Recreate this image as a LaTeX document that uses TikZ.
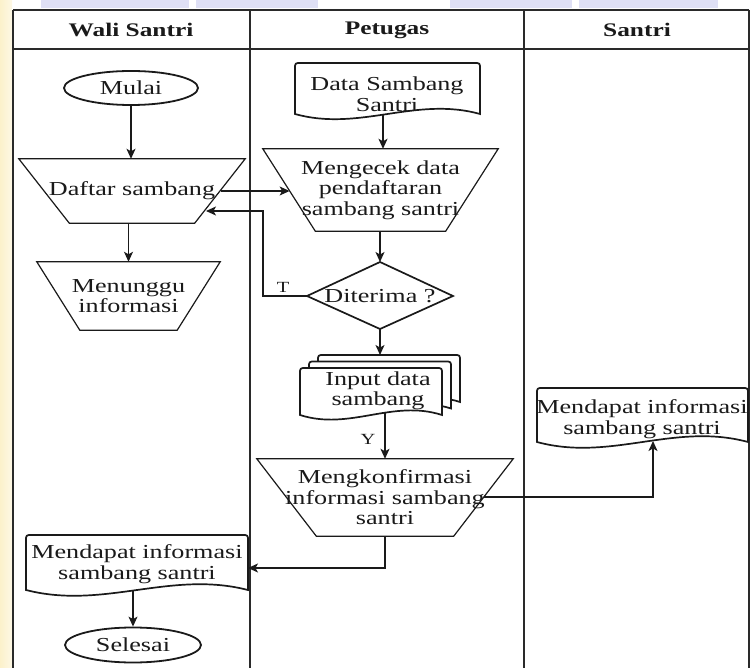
\documentclass[tikz,border=0pt]{standalone}
\usepackage{fontspec}
\setmainfont[FakeStretch=1.32]{Liberation Serif}
\usetikzlibrary{shapes.geometric,arrows.meta,calc}
\definecolor{ink}{HTML}{1A1A1A}
\definecolor{lanec}{HTML}{2A2A2A}
\definecolor{wmyel}{HTML}{FCF1CB}
\definecolor{wmblue}{HTML}{DFE0F5}
\tikzset{
  lbl/.style={font=\fontsize{19.8}{20.5}\selectfont, align=center, inner sep=0pt, text=ink},
  hdr/.style={font=\fontsize{19.2}{20}\selectfont\bfseries, inner sep=0pt, text=ink},
  small/.style={font=\fontsize{15.5}{16}\selectfont, inner sep=0pt, text=ink},
  tshp/.style={draw=ink, line width=1.2pt, line join=miter},
  dshp/.style={draw=ink, line width=1.7pt, fill=white},
  term/.style={lbl, ellipse, draw=ink, line width=1.8pt},
  lane/.style={draw=lanec, line width=1.4pt},
  conn/.style={draw=ink, line width=1.2pt, -{Stealth[length=10pt,width=9pt,inset=2.5pt]}}
}
\newcommand\trapz[7]{%
  \node[lbl, minimum width=#4, minimum height=#6] (#1) at (#2,#3) {#7};
  \draw[tshp] (#1.north west) -- (#1.north east) -- ([xshift={-(#4-#5)/2}]#1.south east) -- ([xshift={(#4-#5)/2}]#1.south west) -- cycle;}
\newcommand\docp[5]{%
  \draw[dshp] (#2,#4) .. controls ({#2-0.35*(#2-#1)},{#4-2*#5}) and ({#1+0.35*(#2-#1)},{#4+2*#5}) .. (#1,#4)
    -- (#1,{#3+6}) .. controls (#1,#3) .. ({#1+6},#3) -- ({#2-6},#3) .. controls (#2,#3) .. (#2,{#3+6}) -- cycle;}
\begin{document}
\begin{tikzpicture}[x=1pt,y=-1pt]
\useasboundingbox (0,0) rectangle (750,668);
% watermark traces
\shade[left color=wmyel, right color=white!50!wmyel] (0,0) rectangle (12,668);
\fill[wmblue] (41,0) rectangle (189,8);
\fill[wmblue] (196,0) rectangle (318,8);
\fill[wmblue] (450,0) rectangle (572,8);
\fill[wmblue] (579,0) rectangle (718,8);
\fill[white] (13,10) rectangle (749,668);
% swimlanes
\draw[lane] (13,10) -- (749,10);
\draw[lane] (13,49) -- (749,49);
\draw[lane] (13,10) -- (13,668);
\draw[lane] (250,10) -- (250,668);
\draw[lane] (524,10) -- (524,668);
\draw[lane] (749,10) -- (749,668);
\node[hdr] (h1) at (131,30) {Wali Santri};
\node[hdr] (h2) at (387,30) {Petugas};
\node[hdr] (h3) at (637,30) {Santri};
% Wali Santri lane
\node[term, minimum width=134, minimum height=34] (mulai) at (131,88) {Mulai};
\trapz{daftar}{132}{191}{226}{125}{64}{Daftar sambang}
\trapz{menunggu}{128.5}{296}{183}{97}{68}{Menunggu\\informasi}
% Petugas lane
\docp{295}{480}{63}{114}{9}
\node[lbl] (data) at (387,94) {Data Sambang\\Santri};
\trapz{mengecek}{380.5}{190}{235}{130}{82}{Mengecek data\\pendaftaran \\sambang santri}
\coordinate (dn) at (380,262);
\coordinate (de) at (453,296);
\coordinate (ds) at (380,329);
\coordinate (dw) at (307,296);
\draw[tshp, line width=1.7pt] (dn) -- (de) -- (ds) -- (dw) -- cycle;
\node[lbl] (diterima) at (380,296) {Diterima ?};
\docp{318}{460}{355}{402}{8}
\docp{309}{451}{361.5}{408.5}{8}
\docp{300}{442}{368}{415}{8}
\node[lbl] (input) at (378,391) {Input data\\sambang};
\trapz{konf}{385}{497.5}{256}{137}{77}{Mengkonfirmasi\\informasi sambang\\santri}
% Santri lane
\docp{537}{748}{388}{442}{10}
\node[lbl] (rdoc) at (642,419) {Mendapat informasi\\sambang santri};
% final
\docp{26}{248}{535}{590}{10}
\node[lbl] (ldoc) at (137,564) {Mendapat informasi\\sambang santri};
\node[term, minimum width=136, minimum height=35] (selesai) at (133,645) {Selesai};
% connector anchor points
\coordinate (dafR) at (221,191);
\coordinate (dafR2) at (206,211);
\coordinate (cekL) at (289.6,191);
\coordinate (tcorner) at (263,211);
\coordinate (dataB) at (383,114);
\coordinate (inTop) at (380,355);
\coordinate (inB) at (385,413);
\coordinate (konfR) at (484,497);
\coordinate (rdocB) at (653,441);
\coordinate (konfB) at (385,536);
\coordinate (ldocR) at (248,568);
\coordinate (ldocB) at (133,591);
% connectors
\draw[conn] (mulai.south) -- (mulai.south |- daftar.north);
\draw[conn] (dafR) -- (cekL);
\draw[conn] (menunggu.north |- daftar.south) -- (menunggu.north);
\draw[conn] (dataB) -- (dataB |- mengecek.north);
\draw[conn] (dn |- mengecek.south) -- (dn);
\draw[conn] (dw) -| (tcorner) -- (dafR2);
\node[small] (tl) at (283,287) {T};
\draw[conn] (ds) -- (inTop);
\draw[conn] (inB) -- (inB |- konf.north);
\node[small] (yl) at (368,439) {Y};
\draw[conn] (konfR) -| (rdocB);
\draw[conn] (konfB) |- (ldocR);
\draw[conn] (ldocB) -- (selesai.north);
\end{tikzpicture}
\end{document}
